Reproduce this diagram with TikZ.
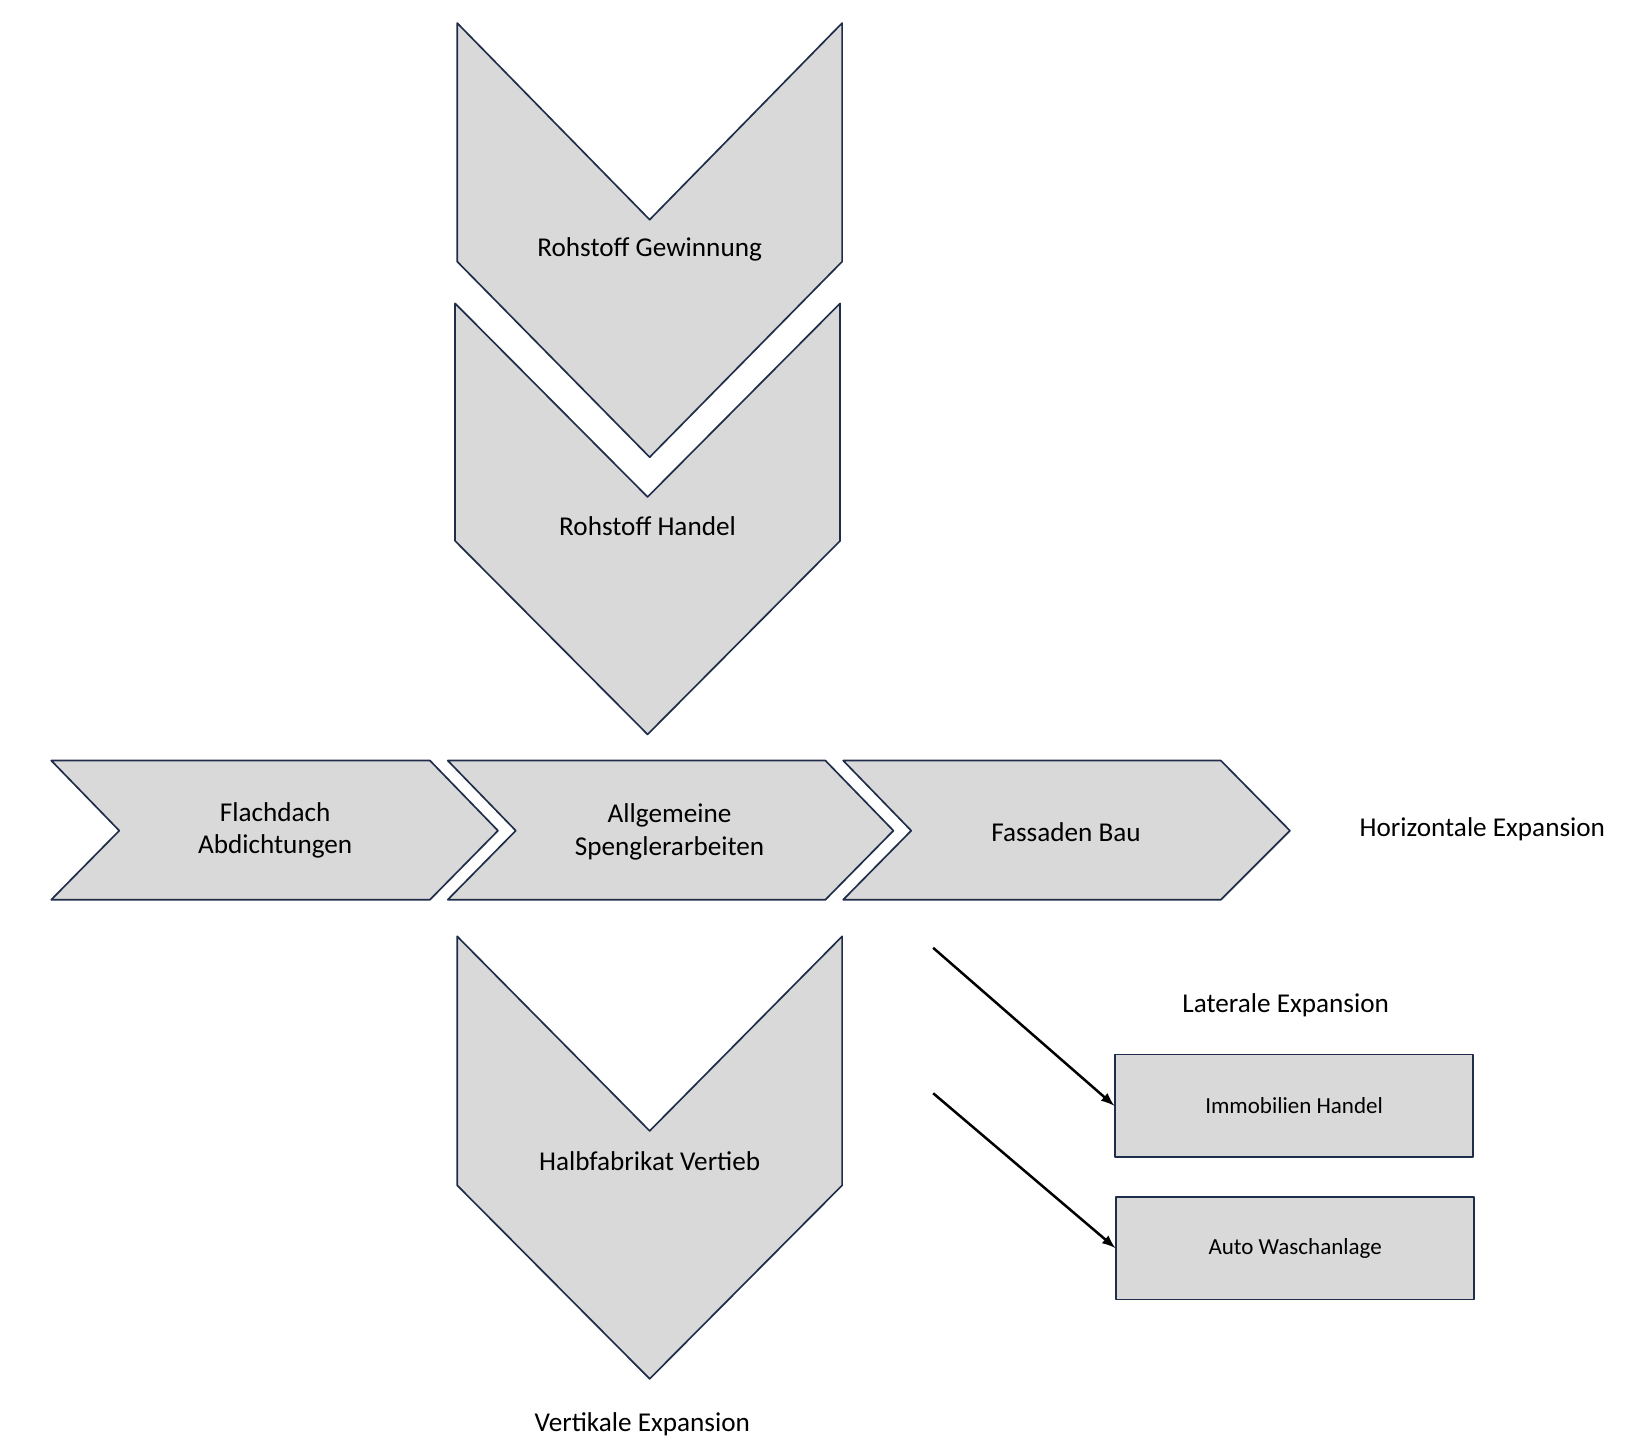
\documentclass[tikz,border=0pt]{standalone}
\usepackage{fontspec}
\setmainfont{Carlito}
\begin{document}
\begin{tikzpicture}[x=0.5pt,y=-0.5pt,
  shp/.style={fill={rgb,255:red,217;green,217;blue,217},draw={rgb,255:red,31;green,45;blue,74},line width=0.8pt,line join=round},
  lbl/.style={font=\fontsize{13}{15.5}\selectfont,align=center},
  sml/.style={font=\fontsize{11}{13}\selectfont},
  arr/.style={-latex,line width=1.2pt}]
\useasboundingbox (0,0) rectangle (1560,1389);
\draw[shp] (437,22)--(621,210)--(805,22)--(805,250)--(621,437)--(437,250)--cycle;
\draw[shp] (435,290)--(619,475)--(803,290)--(803,517)--(619,702)--(435,517)--cycle;
\draw[shp] (437,895)--(621,1081)--(805,895)--(805,1133)--(621,1318)--(437,1133)--cycle;
\draw[shp] (49,727)--(411,727)--(476,794)--(411,860)--(49,860)--(114,794)--cycle;
\draw[shp] (428,727)--(789,727)--(854,794)--(789,860)--(428,860)--(493,794)--cycle;
\draw[shp] (806,727)--(1167,727)--(1233,794)--(1167,860)--(806,860)--(871,794)--cycle;
\node[shp,minimum width=171pt,minimum height=49pt,sml] (im) at (1237,1057) {Immobilien Handel};
\node[shp,minimum width=171pt,minimum height=49pt,sml] (aw) at (1238,1193) {Auto Waschanlage};
\node[lbl] (rg) at (621,238) {Rohstoff Gewinnung};
\node[lbl] (rh) at (619,503) {Rohstoff Handel};
\node[lbl] (fd) at (263,794) {Flachdach\\Abdichtungen};
\node[lbl] (as) at (640,795) {Allgemeine\\Spenglerarbeiten};
\node[lbl] (fb) at (1019,795) {Fassaden Bau};
\node[lbl] (he) at (1417,793) {Horizontale Expansion};
\node[lbl] (le) at (1229,961) {Laterale Expansion};
\node[lbl] (hv) at (621,1110) {Halbfabrikat Vertieb};
\node[lbl] (ve) at (614,1361) {Vertikale Expansion};
\coordinate (a1) at (892,906);
\coordinate (a2) at (892,1045);
\draw[arr] (a1) -- (im.west);
\draw[arr] (a2) -- (aw.west);
\end{tikzpicture}
\end{document}
